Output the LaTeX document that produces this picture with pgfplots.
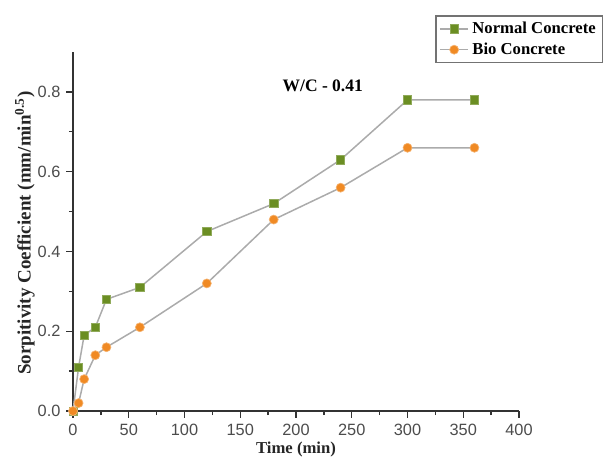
\documentclass[border=0pt]{standalone}
\usepackage{fontspec}
\setmainfont{Liberation Serif}
\setsansfont{Liberation Sans}
\usepackage{pgfplots}
\pgfplotsset{compat=1.18}

\definecolor{olive}{HTML}{6B8E23}
\definecolor{orng}{HTML}{F08A24}
\definecolor{ln}{HTML}{ABABAB}

\begin{document}
\begin{tikzpicture}
\begin{axis}[
  scale only axis,
  width=267.6pt, height=215.4pt,
  xmin=0, xmax=400, ymin=0, ymax=0.9,
  axis lines*=left,
  axis line style={line width=1pt, black!80},
  xtick={0,50,...,400}, ytick={0,0.2,...,0.8},
  minor x tick num=1, minor y tick num=1,
  tick align=outside,
  major tick length=4pt, minor tick length=2.5pt,
  tick style={line width=0.8pt, black!80},
  yticklabel style={/pgf/number format/fixed, /pgf/number format/fixed zerofill, /pgf/number format/precision=1},
  ticklabel style={font=\sffamily\fontsize{9.8}{11}\selectfont, text=black!70},
  /pgf/number format/assume math mode=true,
  xlabel={\textbf{Time (min)}},
  ylabel={\textbf{Sorpitivity Coefficient (mm/min\textsuperscript{0.5})}},
  xlabel style={font=\fontsize{10}{12}\selectfont, text=black!85, yshift=3pt},
  ylabel style={font=\fontsize{11.4}{13}\selectfont, text=black!85, yshift=-5pt, xshift=-1pt},
  clip=false,
  legend style={at={(rel axis cs:0.812,1.102)}, anchor=north west,
    font=\bfseries\fontsize{10}{12}\selectfont, draw=black!55, line width=0.8pt,
    row sep=0pt, inner xsep=2pt, inner ysep=1.5pt},
  legend cell align=left,
]
\addplot[ln, line width=0.9pt, mark=square*, mark size=2.5pt,
  mark options={fill=olive, draw=olive!75!white, line width=0.4pt}]
  coordinates {(0,0) (5,0.11) (10,0.19) (20,0.21) (30,0.28) (60,0.31) (120,0.45)
  (180,0.52) (240,0.63) (300,0.78) (360,0.78)};
\addlegendentry{Normal Concrete}
\addplot[ln, line width=0.9pt, mark=*, mark size=2.7pt,
  mark options={fill=orng, draw=orng!65!white, line width=0.4pt}]
  coordinates {(0,0) (5,0.02) (10,0.08) (20,0.14) (30,0.16) (60,0.21) (120,0.32)
  (180,0.48) (240,0.56) (300,0.66) (360,0.66)};
\addlegendentry{Bio Concrete}
\node[font=\bfseries\fontsize{10.5}{12}\selectfont] at (axis cs:224,0.815) {W/C - 0.41};
\path (rel axis cs:-0.1637,-0.145) rectangle (rel axis cs:1.195,1.145);
\end{axis}
\end{tikzpicture}
\end{document}
